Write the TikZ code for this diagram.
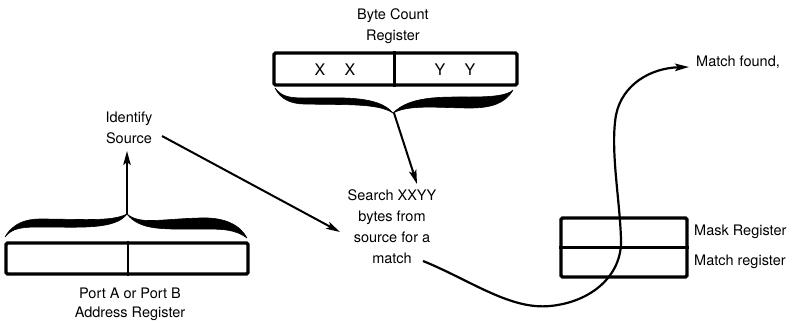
\documentclass[tikz,border=0pt]{standalone}
\usepackage{fontspec}
\setmainfont{TeX Gyre Heros}
\usetikzlibrary{arrows.meta}
\begin{document}
\begin{tikzpicture}[x=1pt,y=-1pt,
  lbl/.style={font=\fontsize{14.5}{21}\selectfont, align=center, inner sep=0pt},
  regbox/.style={draw, line width=3.4pt, rounded corners=1.5pt, inner sep=0pt},
  divider/.style={line width=2.2pt},
  conn/.style={line width=2pt, -{Stealth[length=14pt,width=7.5pt,inset=3pt]}},
  bracefill/.style={fill=black, draw=black, line width=0.6pt, line join=round}]
\useasboundingbox (0,0) rectangle (801,322);

% Byte count register
\node[lbl] (bct) at (393,26) {Byte Count\\Register};
\node[regbox, minimum width=243pt, minimum height=32pt] (bcr) at (395.5,69) {};
\draw[divider, line width=3pt] ([xshift=-1.5pt]bcr.north) -- ([xshift=-1.5pt]bcr.south);
\node[lbl, font=\fontsize{16}{21}\selectfont] (xx) at (335,70) {X\hspace{1.2em}X};
\node[lbl, font=\fontsize{16}{21}\selectfont] (yy) at (455,70) {Y\hspace{1.2em}Y};

% top brace (points down)
\fill[bracefill] (275,88) .. controls (282,97) and (290,98) .. (305,98)
  .. controls (340,98) and (378,95) .. (393,113)
  .. controls (378,103) and (345,105) .. (305,104)
  .. controls (289,104) and (280,98) .. (275,88) -- cycle;
\fill[bracefill] (393,113) .. controls (410,96) and (440,97) .. (470,97)
  .. controls (495,97) and (508,95) .. (513,90)
  .. controls (505,104) and (490,108) .. (470,108)
  .. controls (440,108) and (410,104) .. (393,113) -- cycle;
\coordinate (btip) at (394,113);

% Search text
\node[lbl] (search) at (392,227) {Search XXYY\\bytes from\\source for a\\match};
\coordinate (sin) at (417,184);
\draw[conn] (btip) -- (sin);

% Port register
\node[regbox, minimum width=242pt, minimum height=31pt] (src) at (127,258.5) {};
\draw[divider] ([xshift=1pt]src.north) -- ([xshift=1pt]src.south);
\node[lbl, font=\fontsize{14.5}{19}\selectfont] (port) at (130,304) {Port A or Port B\\Address Register};

% bottom brace (points up)
\fill[bracefill] (5,237) .. controls (12,228) and (22,227) .. (40,227)
  .. controls (80,227) and (115,230) .. (127,214)
  .. controls (112,222) and (80,219) .. (40,219)
  .. controls (20,219) and (10,228) .. (5,237) -- cycle;
\fill[bracefill] (127,214) .. controls (140,225) and (160,219) .. (200,218)
  .. controls (225,217) and (240,225) .. (247,238)
  .. controls (235,229) and (222,229) .. (200,229)
  .. controls (165,229) and (140,231) .. (127,214) -- cycle;
\coordinate (ltip) at (127,214);

% Identify source
\node[lbl] (id) at (129,128) {Identify\\Source};
\coordinate (idin) at (127,151);
\draw[conn] (ltip) -- (idin);
\coordinate (idout) at (162,136);
\coordinate (srchin) at (340,232);
\draw[conn] (idout) -- (srchin);

% Mask / Match registers
\node[regbox, minimum width=126pt, minimum height=59pt] (mm) at (624,247.5) {};
\draw[divider] (mm.west) -- (mm.east);
\node[lbl, anchor=west] (mask) at (694,232) {Mask Register};
\node[lbl, anchor=west] (matchr) at (694,262) {Match register};

% Match found
\node[lbl, anchor=west] (found) at (696,62) {Match found,};
\coordinate (cstart) at (423,261);
\coordinate (cend) at (689,67);
\draw[conn, line width=2.2pt] (cstart) .. controls (470,280) and (510,310) .. (550,306)
  .. controls (592,302) and (622,275) .. (621,240)
  .. controls (620,200) and (610,150) .. (616,115)
  .. controls (622,85) and (650,68) .. (cend);
\end{tikzpicture}
\end{document}
